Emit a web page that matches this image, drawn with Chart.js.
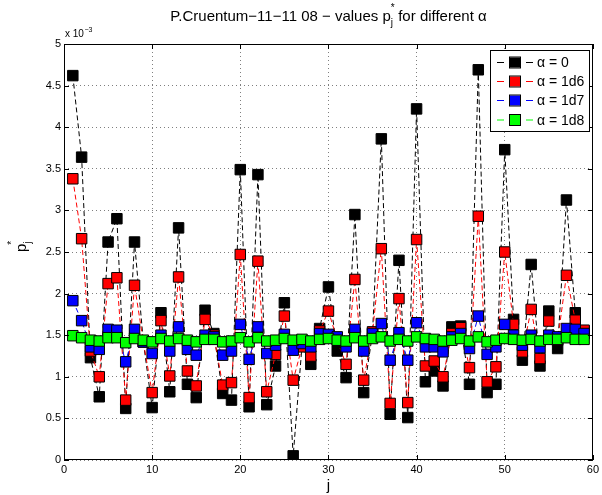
<!DOCTYPE html>
<html>
<head>
<meta charset="utf-8">
<script src="https://cdn.jsdelivr.net/npm/chart.js@4.4.1/dist/chart.umd.min.js"></script>
<style>
html,body{margin:0;padding:0;background:#fff;}
#wrap{width:602px;height:495px;position:relative;}
</style>
</head>
<body>
<div id="wrap"><canvas id="c" width="602" height="495"></canvas></div>
<script>
// index j (x values)
const jIndex = [1,2,3,4,5,6,7,8,9,10,11,12,13,14,15,16,17,18,19,20,21,22,23,24,25,26,27,28,29,30,
  31,32,33,34,35,36,37,38,39,40,41,42,43,44,45,46,47,48,49,50,51,52,53,54,55,56,57,58,59];

// values of p*_j, in units of 1e-3
const alpha0 = [4.62,3.64,1.23,0.76,2.62,2.90,0.62,2.62,1.42,0.63,1.77,0.82,2.79,0.91,0.75,1.80,1.52,0.80,0.72,3.49,
  0.64,3.43,0.665,1.13,1.89,0.05,1.37,1.15,1.58,2.08,1.31,0.99,2.95,0.81,1.52,3.86,0.55,2.40,0.51,4.22,
  0.94,1.07,0.89,1.60,1.61,0.91,4.69,0.81,0.91,3.73,1.69,1.20,2.35,1.13,1.79,1.34,3.125,1.77,1.55];
const alpha1d6 = [3.38,2.66,1.31,1.00,2.12,2.19,0.72,2.10,1.42,0.81,1.675,1.01,2.20,1.07,0.89,1.69,1.50,0.90,0.93,2.47,
  0.75,2.39,0.82,1.27,1.73,0.96,1.36,1.25,1.55,1.79,1.44,1.15,2.17,0.96,1.54,2.54,0.68,1.94,0.69,2.65,
  1.13,1.19,1.00,1.52,1.59,1.11,2.93,0.94,1.12,2.50,1.63,1.30,1.81,1.22,1.67,1.44,2.22,1.68,1.56];
const alpha1d7 = [1.915,1.675,1.36,1.33,1.57,1.56,1.18,1.57,1.42,1.28,1.50,1.31,1.60,1.33,1.26,1.50,1.48,1.26,1.31,1.63,
  1.21,1.60,1.28,1.38,1.51,1.32,1.40,1.36,1.52,1.51,1.48,1.36,1.57,1.31,1.52,1.64,1.20,1.53,1.20,1.65,
  1.36,1.36,1.30,1.48,1.52,1.34,1.73,1.27,1.36,1.63,1.50,1.38,1.50,1.35,1.50,1.48,1.58,1.57,1.52];
const alpha1d8 = [1.494,1.47,1.44,1.43,1.47,1.47,1.41,1.46,1.44,1.42,1.46,1.43,1.46,1.44,1.42,1.45,1.45,1.42,1.43,1.47,
  1.42,1.47,1.43,1.44,1.46,1.44,1.45,1.43,1.45,1.46,1.44,1.43,1.47,1.43,1.46,1.48,1.43,1.45,1.43,1.48,
  1.46,1.45,1.43,1.44,1.46,1.43,1.48,1.42,1.44,1.46,1.45,1.44,1.45,1.43,1.45,1.45,1.47,1.45,1.45];

const seriesLabels = ['\u03b1 = 0','\u03b1 = 1d6','\u03b1 = 1d7','\u03b1 = 1d8'];
const xTicks = [0,10,20,30,40,50,60];
const yTicks = [0,0.5,1,1.5,2,2.5,3,3.5,4,4.5,5];

const FONT = "'Liberation Sans', Arial, Helvetica, sans-serif";
const lineColors = ['#000000','#ff0000','#0000ff','#00ff00'];
const fillColors = ['#000000','#ff0000','#0000ff','#00ff00'];
const allSeries = [alpha0, alpha1d6, alpha1d7, alpha1d8];

const datasets = allSeries.map((vals, k) => ({
  label: seriesLabels[k],
  data: jIndex.map((j, i) => ({x: j, y: vals[i]})),
  showLine: true,
  borderColor: lineColors[k],
  borderWidth: 1,
  borderDash: [5,3],
  backgroundColor: fillColors[k],
  pointStyle: 'rect',
  pointRadius: 7.4,
  pointBorderWidth: 1,
  pointBorderColor: '#000000',
  pointBackgroundColor: fillColors[k],
  order: 4 - k,
  tension: 0
}));

const decor = {
  id: 'decor',
  afterDraw(chart) {
    const ctx = chart.ctx;
    const a = chart.chartArea;
    const xs = chart.scales.x, ys = chart.scales.y;
    ctx.save();
    // box
    ctx.strokeStyle = '#000';
    ctx.lineWidth = 1;
    ctx.setLineDash([]);
    ctx.strokeRect(Math.round(a.left)+0.5, Math.round(a.top)+0.5, Math.round(a.right-a.left)-1, Math.round(a.bottom-a.top)-1);
    // inward ticks
    const tl = 5;
    ctx.beginPath();
    xTicks.forEach(v => {
      const px = Math.round(xs.getPixelForValue(v)) + 0.5;
      ctx.moveTo(px, a.bottom); ctx.lineTo(px, a.bottom - tl);
      ctx.moveTo(px, a.top); ctx.lineTo(px, a.top + tl);
    });
    yTicks.forEach(v => {
      const py = Math.round(ys.getPixelForValue(v)) + 0.5;
      ctx.moveTo(a.left, py); ctx.lineTo(a.left + tl, py);
      ctx.moveTo(a.right, py); ctx.lineTo(a.right - tl, py);
    });
    ctx.stroke();

    ctx.fillStyle = '#000';
    // title
    const tSize = 15;
    const part1 = 'P.Cruentum\u221211\u221211 08 \u2212 values p';
    const part2 = ' for different \u03b1';
    ctx.font = tSize + 'px ' + FONT;
    const w1 = ctx.measureText(part1).width;
    const w2 = ctx.measureText(part2).width;
    ctx.font = '10px ' + FONT;
    const wsub = ctx.measureText('j').width;
    const total = w1 + wsub + 1 + w2;
    const cx = (a.left + a.right) / 2;
    let x0 = cx - total / 2;
    const base = 21;
    ctx.textBaseline = 'alphabetic';
    ctx.textAlign = 'left';
    ctx.font = tSize + 'px ' + FONT;
    ctx.fillText(part1, x0, base);
    ctx.font = '10px ' + FONT;
    ctx.fillText('j', x0 + w1, base + 5);
    ctx.fillText('*', x0 + w1, base - 10);
    ctx.font = tSize + 'px ' + FONT;
    ctx.fillText(part2, x0 + w1 + wsub + 1, base);

    // exponent
    ctx.font = '10px ' + FONT;
    ctx.fillText('x 10', a.left + 1, 37);
    const wx = ctx.measureText('x 10').width;
    ctx.font = '7px ' + FONT;
    ctx.fillText('\u22123', a.left + 1 + wx + 0.5, 32);

    // x label
    ctx.font = '15px ' + FONT;
    ctx.textAlign = 'center';
    ctx.fillText('j', cx, 490);

    // y label (rotated)
    ctx.save();
    ctx.translate(26, 252);
    ctx.rotate(-Math.PI / 2);
    ctx.textAlign = 'left';
    ctx.font = '15px ' + FONT;
    ctx.fillText('p', 0, 0);
    const wp = ctx.measureText('p').width;
    ctx.font = '10px ' + FONT;
    ctx.fillText('j', wp, 5);
    ctx.fillText('*', wp - 1, -11);
    ctx.restore();

    // legend
    const L = {x: 490, y: 50, w: 99, h: 81};
    ctx.fillStyle = '#fff';
    ctx.fillRect(L.x, L.y, L.w, L.h);
    ctx.strokeStyle = '#000';
    ctx.lineWidth = 1;
    ctx.strokeRect(L.x + 0.5, L.y + 0.5, L.w, L.h);
    const rowsY = [62.5, 81.5, 100.5, 120];
    rowsY.forEach((ry, k) => {
      ctx.strokeStyle = lineColors[k];
      ctx.lineWidth = 1;
      ctx.setLineDash([]);
      ctx.beginPath();
      ctx.moveTo(497, ry); ctx.lineTo(504, ry);
      ctx.moveTo(526, ry); ctx.lineTo(533, ry);
      ctx.stroke();
      ctx.fillStyle = fillColors[k];
      ctx.fillRect(510, ry - 5, 10, 10);
      ctx.strokeStyle = '#000';
      ctx.strokeRect(509.5, ry - 5.5, 11, 11);
      ctx.fillStyle = '#000';
      ctx.font = '14px ' + FONT;
      ctx.textAlign = 'left';
      ctx.textBaseline = 'middle';
      ctx.fillText(seriesLabels[k], 537, ry + 1);
    });
    ctx.restore();
  }
};

new Chart(document.getElementById('c'), {
  type: 'scatter',
  data: { datasets },
  options: {
    responsive: false,
    animation: false,
    devicePixelRatio: 1,
    layout: { padding: { top: 44, right: 7, left: 0, bottom: 0 } },
    plugins: { legend: { display: false }, tooltip: { enabled: false }, title: { display: false } },
    scales: {
      x: {
        type: 'linear', min: 0, max: 60,
        afterFit(s) { s.height = 35; },
        afterBuildTicks(s) { s.ticks = xTicks.map(v => ({value: v})); },
        ticks: { color: '#000', font: { size: 11, family: FONT }, padding: 3, maxRotation: 0,
                 callback: v => String(v) },
        grid: { color: 'rgba(0,0,0,0.5)', lineWidth: 1, drawTicks: false },
        border: { display: false, dash: [1, 3] }
      },
      y: {
        type: 'linear', min: 0, max: 5,
        afterFit(s) { s.width = 64; },
        afterBuildTicks(s) { s.ticks = yTicks.map(v => ({value: v})); },
        ticks: { color: '#000', font: { size: 11, family: FONT }, padding: 3,
                 callback: v => String(v) },
        grid: { color: 'rgba(0,0,0,0.5)', lineWidth: 1, drawTicks: false },
        border: { display: false, dash: [1, 3] }
      }
    }
  },
  plugins: [decor]
});
</script>
</body>
</html>
